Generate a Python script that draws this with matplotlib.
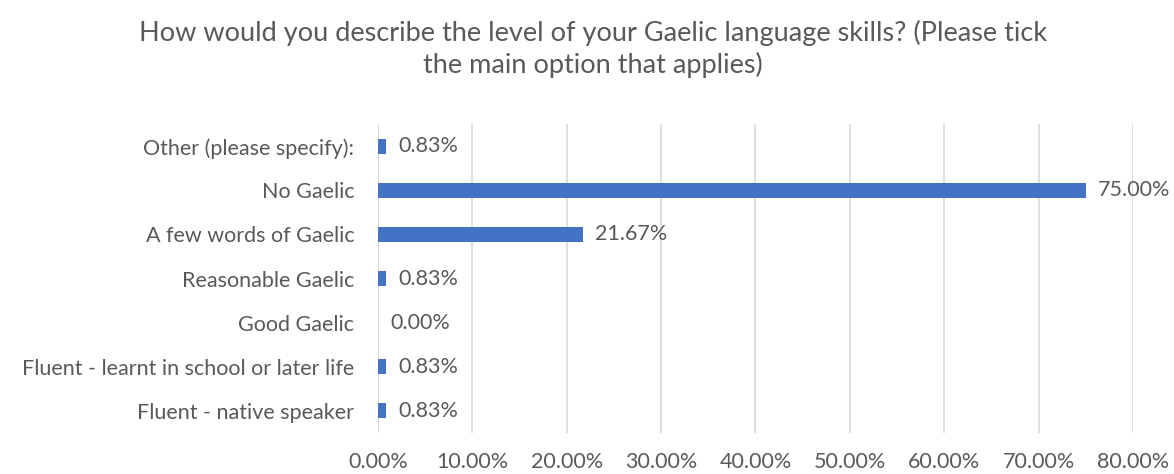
import matplotlib.pyplot as plt
from matplotlib.ticker import FuncFormatter

TEXT_GREY = '#595959'
GRID_GREY = '#D9D9D9'
BAR_BLUE = '#4472C4'

plt.rcParams['font.family'] = ['Lato', 'DejaVu Sans']

# Data (bottom to top, as drawn)
categories = [
    'Fluent - native speaker',
    'Fluent - learnt in school or later life',
    'Good Gaelic',
    'Reasonable Gaelic',
    'A few words of Gaelic',
    'No Gaelic',
    'Other (please specify):',
]
percent = [0.83, 0.83, 0.00, 0.83, 21.67, 75.00, 0.83]
x_ticks = [0, 10, 20, 30, 40, 50, 60, 70, 80]

fig = plt.figure(figsize=(11.74, 4.74), dpi=100)
ax = fig.add_axes([0.322, 0.0865, 0.643, 0.6515])

ypos = list(range(len(categories)))
ax.barh(ypos, percent, height=0.34, color=BAR_BLUE, zorder=3)

for y, v in zip(ypos, percent):
    ax.annotate(f'{v:.2f}%', xy=(v, y), xytext=(9, 0), textcoords='offset points',
                ha='left', va='center', fontsize=15.5, color=TEXT_GREY, zorder=4)

ax.set_xlim(0, 80)
ax.set_ylim(-0.5, len(categories) - 0.5)
ax.set_xticks(x_ticks)
ax.xaxis.set_major_formatter(FuncFormatter(lambda v, p: f'{v:.2f}%'))
ax.set_yticks(ypos)
ax.set_yticklabels(categories)

ax.grid(axis='x', color=GRID_GREY, linewidth=1.2, zorder=0)
for spine in ax.spines.values():
    spine.set_visible(False)
ax.axvline(0, color=GRID_GREY, linewidth=1.2, zorder=1)
ax.tick_params(axis='both', length=0, labelsize=15.5, colors=TEXT_GREY)
ax.tick_params(axis='x', pad=14)
ax.tick_params(axis='y', pad=17)

fig.text(0.505, 0.897, 'How would you describe the level of your Gaelic language skills? (Please tick\nthe main option that applies)',
         ha='center', va='center', fontsize=19.5, color=TEXT_GREY, linespacing=1.3)

fig.savefig('out.png', facecolor='white')
